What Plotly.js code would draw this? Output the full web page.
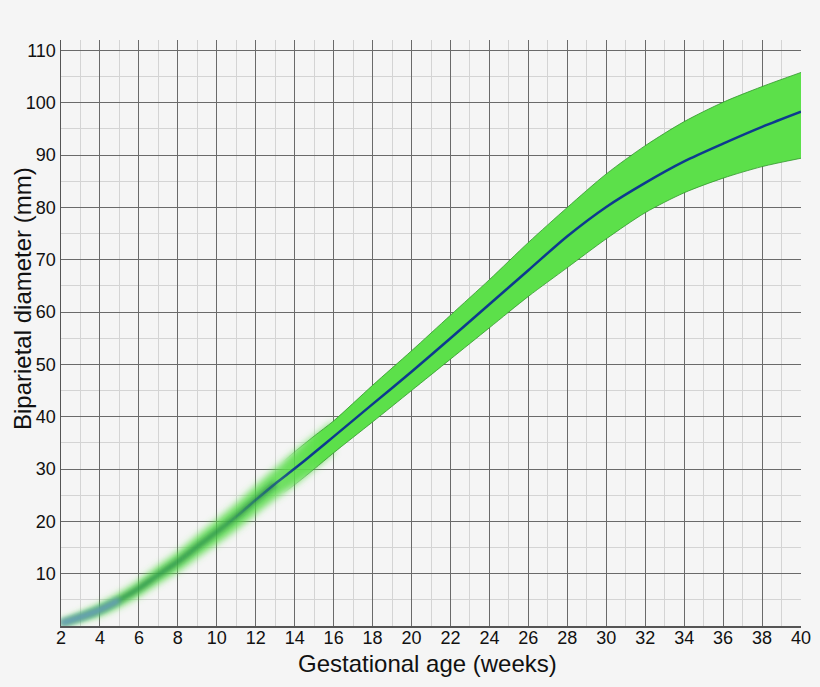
<!DOCTYPE html>
<html>
<head>
<meta charset="utf-8">
<script src="https://cdn.plot.ly/plotly-3.0.1.min.js"></script>
<style>
  html, body { margin: 0; padding: 0; background: #f5f5f5; }
  #chart { width: 820px; height: 687px; }
</style>
</head>
<body>
<div id="chart"></div>
<script>
// Gestational age (weeks)
const weeks = [2,3,4,5,6,7,8,9,10,11,12,13,14,15,16,18,20,22,24,26,28,30,32,34,36,38,40];
// Mean biparietal diameter (mm)
const meanBPD = [0.5,1.7,3.1,5.0,7.2,9.8,12.3,15.2,18.0,20.9,24.1,27.2,30.1,33.1,36.2,42.4,48.6,55.0,61.5,68.0,74.5,80.1,84.7,88.8,92.2,95.4,98.3];
// Upper bound of normal range (mm)
const upperBPD = [1.0,2.5,4.2,6.3,8.7,11.5,14.2,17.3,20.3,23.4,26.8,30.1,33.3,36.3,39.2,46.0,52.6,59.4,66.2,73.3,80.0,86.4,91.8,96.4,100.1,103.1,105.8];
// Lower bound of normal range (mm)
const lowerBPD = [0.0,0.9,2.0,3.7,5.7,8.1,10.4,13.1,15.7,18.4,21.4,24.3,27.0,30.0,33.1,39.0,45.0,51.0,57.0,63.0,68.5,74.0,79.0,82.8,85.6,87.8,89.4];
// Tick labels
const xTicks = [2,4,6,8,10,12,14,16,18,20,22,24,26,28,30,32,34,36,38,40];
const yTicks = [10,20,30,40,50,60,70,80,90,100,110];

const idx = (w) => weeks.indexOf(w);
const sl = (arr, a, b) => arr.slice(idx(a), idx(b) + 1);

function lineTrace(arr, a, b, color, width, fill, fillcolor) {
  const t = {
    x: sl(weeks, a, b), y: sl(arr, a, b),
    type: 'scatter', mode: 'lines',
    line: { color: color, width: width, shape: 'spline', smoothing: 0.8 },
    hoverinfo: 'skip', showlegend: false
  };
  if (fill) { t.fill = fill; t.fillcolor = fillcolor; }
  return t;
}

const edge = 'rgba(50,150,45,0.8)';
const data = [
  // 0-1: early soft (blurred) band
  lineTrace(lowerBPD, 2, 16, 'rgba(0,0,0,0)', 0),
  lineTrace(upperBPD, 2, 16, 'rgba(0,0,0,0)', 0, 'tonexty', 'rgba(88,220,72,0.85)'),
  // 2: early dark centre (blurred)
  lineTrace(meanBPD, 2, 13, 'rgba(30,120,70,0.75)', 5),
  // 3: bluish start (blurred)
  lineTrace(meanBPD, 2, 5, 'rgba(110,160,200,0.9)', 6),
  // 4-5: crisp band (fades in)
  lineTrace(lowerBPD, 13, 40, edge, 1),
  lineTrace(upperBPD, 13, 40, edge, 1, 'tonexty', '#5ce04a'),
  // 6: blue mean line (fades in)
  lineTrace(meanBPD, 10, 40, '#0d3a8f', 2.5)
];

const fontFam = 'Liberation Sans, Arial, Helvetica, sans-serif';
const layout = {
  width: 820, height: 687,
  paper_bgcolor: '#f5f5f5', plot_bgcolor: '#f5f5f5',
  margin: { l: 61, r: 19, t: 40, b: 61 },
  showlegend: false,
  font: { family: fontFam, color: '#111' },
  xaxis: {
    range: [2, 40], tickvals: xTicks, ticktext: xTicks.map(String),
    showgrid: true, gridcolor: '#6a6a6a', gridwidth: 1,
    minor: { dtick: 1, tick0: 2, showgrid: true, gridcolor: '#d4d4d4', gridwidth: 1 },
    zeroline: false, showline: true, linecolor: '#555', linewidth: 1.5,
    ticks: '', ticklabelstandoff: -5,
    tickfont: { size: 18, color: '#111', family: fontFam },
    fixedrange: true
  },
  yaxis: {
    range: [0, 112], tickvals: yTicks, ticktext: yTicks.map(String),
    showgrid: true, gridcolor: '#6a6a6a', gridwidth: 1,
    minor: { dtick: 5, tick0: 0, showgrid: true, gridcolor: '#d4d4d4', gridwidth: 1 },
    zeroline: false, showline: true, linecolor: '#555', linewidth: 1.5,
    ticks: '', tickfont: { size: 18, color: '#111', family: fontFam },
    fixedrange: true
  },
  annotations: [
    { text: 'Gestational age (weeks)', xref: 'paper', yref: 'paper',
      x: (427 - 61) / 740, y: -(37 / 586), xanchor: 'center', yanchor: 'middle',
      showarrow: false, font: { size: 24, color: '#111', family: fontFam } },
    { text: 'Biparietal diameter (mm)', xref: 'paper', yref: 'paper',
      x: (22 - 61) / 740, y: (626 - 299) / 586, xanchor: 'center', yanchor: 'middle',
      textangle: -90, showarrow: false, font: { size: 24, color: '#111', family: fontFam } }
  ]
};

Plotly.newPlot('chart', data, layout, { staticPlot: true, displayModeBar: false }).then(function (gd) {
  const svg = gd.querySelector('.main-svg');
  const defs = svg.querySelector('defs');
  const ns = 'http://www.w3.org/2000/svg';
  const xa = gd._fullLayout.xaxis;
  const W = gd._fullLayout._size.w, H = gd._fullLayout._size.h;
  function el(tag, attrs) {
    const e = document.createElementNS(ns, tag);
    for (const k in attrs) e.setAttribute(k, attrs[k]);
    return e;
  }
  function addBlur(id, sd) {
    const f = el('filter', { id: id, x: '-20%', y: '-20%', width: '140%', height: '140%' });
    f.appendChild(el('feGaussianBlur', { stdDeviation: sd }));
    defs.appendChild(f);
  }
  function addFade(id, w0, w1) {
    const g = el('linearGradient', { id: id + 'G', gradientUnits: 'userSpaceOnUse',
      x1: xa.l2p(w0), x2: xa.l2p(w1), y1: 0, y2: 0 });
    g.appendChild(el('stop', { offset: '0', 'stop-color': '#000' }));
    g.appendChild(el('stop', { offset: '1', 'stop-color': '#fff' }));
    defs.appendChild(g);
    const m = el('mask', { id: id, maskUnits: 'userSpaceOnUse', x: -50, y: -50, width: W + 100, height: H + 100 });
    m.appendChild(el('rect', { x: -50, y: -50, width: W + 100, height: H + 100, fill: 'url(#' + id + 'G)' }));
    defs.appendChild(m);
  }
  addBlur('blurBand', 3.5);
  addBlur('blurLine', 2.5);
  addFade('fadeBand', 13.4, 15.4);
  addFade('fadeLine', 10.4, 14.2);
  const traces = gd.querySelectorAll('.scatterlayer .trace');
  const set = (i, attr, val) => { if (traces[i]) traces[i].setAttribute(attr, val); };
  set(0, 'filter', 'url(#blurBand)');
  set(1, 'filter', 'url(#blurBand)');
  set(2, 'filter', 'url(#blurLine)');
  set(3, 'filter', 'url(#blurLine)');
  set(4, 'mask', 'url(#fadeBand)');
  set(5, 'mask', 'url(#fadeBand)');
  set(6, 'mask', 'url(#fadeLine)');
});
</script>
</body>
</html>
